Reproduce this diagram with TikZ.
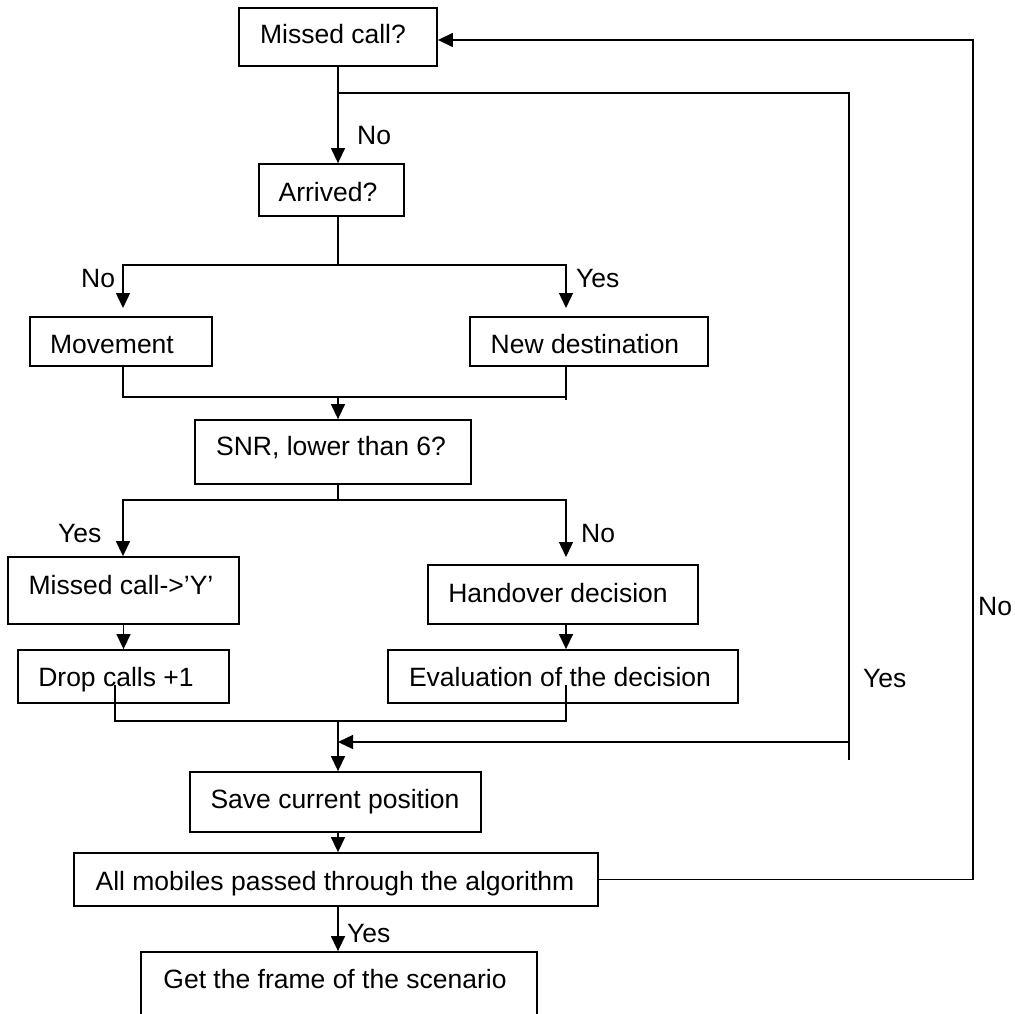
\documentclass[tikz,border=0pt]{standalone}
\usepackage{fontspec}
\setmainfont{Liberation Sans}
\usetikzlibrary{arrows.meta}
\begin{document}
\begin{tikzpicture}[x=1pt,y=-1pt,
  box/.style={draw, line width=1.8pt, inner sep=0pt},
  txt/.style={font=\fontsize{26.5}{30}\selectfont, inner sep=0pt, anchor=base},
  lbl/.style={font=\fontsize{26.5}{30}\selectfont, inner sep=0pt, anchor=base west},
  conn/.style={line width=1.4pt},
  arr/.style={conn, -{Triangle[length=15pt,width=14pt]}}]
\useasboundingbox (0,0) rectangle (1015,1014);
\fill[white] (0,0) rectangle (1015,1014);
\clip (0,0) rectangle (1015,1014);

% boxes
\node[box, minimum width=198pt, minimum height=58pt] (mc)   at (338,37)    {};
\node[box, minimum width=145pt, minimum height=52pt] (arr)  at (331.5,190) {};
\node[box, minimum width=182pt, minimum height=49pt] (mov)  at (121,341.5) {};
\node[box, minimum width=238pt, minimum height=49pt] (nd)   at (589,341.5) {};
\node[box, minimum width=276pt, minimum height=64pt] (snr)  at (333,452)   {};
\node[box, minimum width=231pt, minimum height=67pt] (mcy)  at (123.5,590.5) {};
\node[box, minimum width=270pt, minimum height=59pt] (hd)   at (563,594.5) {};
\node[box, minimum width=211pt, minimum height=53pt] (dc)   at (123.5,676.5) {};
\node[box, minimum width=350pt, minimum height=53pt] (ev)   at (563,676.5) {};
\node[box, minimum width=291pt, minimum height=60pt] (save) at (335.5,802) {};
\node[box, minimum width=524pt, minimum height=53pt] (all)  at (336,879.5) {};
\node[box, minimum width=396pt, minimum height=78pt] (get)  at (339,991)   {};

% box texts
\node[txt] (tmc)   at (333,44)  {Missed call?};
\node[txt] (tarr)  at (328,201) {Arrived?};
\node[txt] (tmov)  at (112,353) {Movement};
\node[txt] (tnd)   at (585,353) {New destination};
\node[txt] (tsnr)  at (331,455) {SNR, lower than 6?};
\node[txt] (tmcy)  at (121,594) {Missed call->’Y’};
\node[txt] (thd)   at (558,602) {Handover decision};
\node[txt] (tdc)   at (116,686) {Drop calls +1};
\node[txt] (tev)   at (560,686) {Evaluation of the decision};
\node[txt] (tsave) at (335,808) {Save current position};
\node[txt] (tall)  at (335,890) {All mobiles passed through the algorithm};
\node[txt] (tget)  at (335,988) {Get the frame of the scenario};

% branch columns
\coordinate (L) at (123,0);
\coordinate (R) at (566,0);
\coordinate (yesTop) at (849,93);
\coordinate (yesBot) at (849,760);
\coordinate (yesIn)  at (849,742);
\coordinate (noCorner) at (973,40);

% connectors
\draw[arr] (mc.south) -- (mc.south |- arr.north);
\draw[conn] (mc.south |- yesTop) -- (yesTop) -- (yesBot);
\draw[arr] (yesIn) -- (mc.south |- yesIn);
\draw[arr] (all.east) -| (noCorner) -- (mc.east |- noCorner);

\draw[conn] (arr.south -| mc.south) -- (338,265);
\draw[arr] (338,265) -| (L |- 0,308);
\draw[arr] (338,265) -| (R |- 0,308);
\draw[conn] (L |- mov.south) |- (566,397);
\draw[conn] (R |- nd.south) -- (566,400);
\draw[arr] (338,397) -- (mc.south |- snr.north);

\draw[conn] (snr.south -| mc.south) -- (338,500);
\draw[arr] (338,500) -| (L |- mcy.north);
\draw[arr] (338,500) -| (R |- 0,557);
\draw[arr] (mcy.south) -- (dc.north);
\draw[arr] (R |- hd.south) -- (R |- ev.north);
\draw[conn] (115,685) |- (566,721) -- (566,685);
\draw[arr] (338,721) -- (mc.south |- save.north);
\draw[arr] (save.south -| mc.south) -- (mc.south |- all.north);
\draw[arr] (all.south -| mc.south) -- (mc.south |- get.north);

% labels
\node[lbl] (l1) at (357,145) {No};
\node[lbl] (l2) at (81,287)  {No};
\node[lbl] (l3) at (576,287) {Yes};
\node[lbl] (l4) at (58,542)  {Yes};
\node[lbl] (l5) at (581,542) {No};
\node[lbl] (l6) at (347,942) {Yes};
\node[lbl] (l7) at (863,687) {Yes};
\node[lbl] (l8) at (978,615) {No};
\end{tikzpicture}
\end{document}
